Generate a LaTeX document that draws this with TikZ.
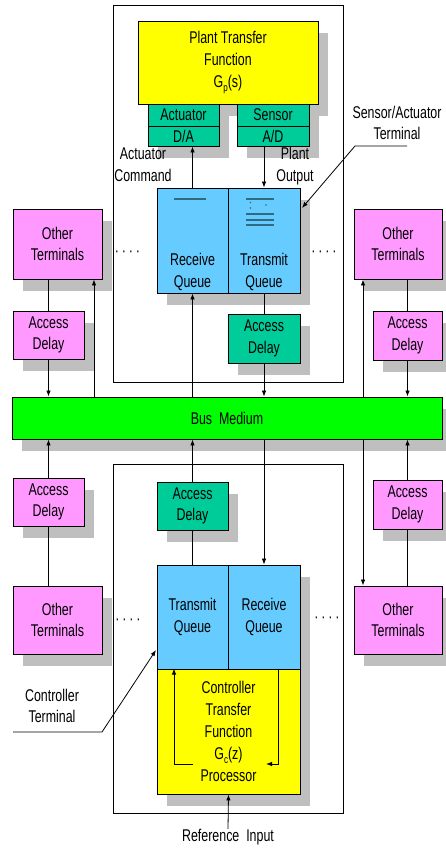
\documentclass[tikz,border=0pt]{standalone}
\usepackage{fontspec}
\setmainfont{Liberation Sans}[FakeStretch=0.73]
\usetikzlibrary{arrows.meta,positioning,calc,shadows}
\definecolor{plantyellow}{HTML}{FFFF00}
\definecolor{devteal}{HTML}{00CC99}
\definecolor{queueblue}{HTML}{66CCFF}
\definecolor{otherpink}{HTML}{FF99FF}
\definecolor{busgreen}{HTML}{00FF00}
\definecolor{qmark}{HTML}{2F6A80}
\newcommand{\lowsub}[1]{\raisebox{-4pt}{\fontsize{11}{11}\selectfont #1}}

\begin{document}
\begin{tikzpicture}[
    x=1pt, y=-1pt,
    font=\fontsize{17}{21.8}\selectfont,
    every node/.style={align=center, inner sep=0pt},
    blk/.style={draw, line width=0.9pt,
      drop shadow={shadow xshift=10pt, shadow yshift=-12pt, fill=black!25, opacity=1}},
    plantblk/.style={blk, fill=plantyellow},
    devblk/.style={blk, fill=devteal},
    queueblk/.style={blk, fill=queueblue},
    otherblk/.style={blk, fill=otherpink},
    busblk/.style={blk, fill=busgreen},
    arr/.style={-{Latex[length=6pt,width=4.5pt]}, line width=0.8pt},
    wire/.style={line width=0.8pt},
    qline/.style={qmark, line width=1.4pt}
  ]
    \useasboundingbox (0,0) rectangle (445,848);

    \draw[line width=0.9pt] (113,5) rectangle (343,382);
    \draw[line width=0.9pt] (113,464) rectangle (343,813);

    % sensor/actuator terminal
    \node[plantblk, minimum width=180pt, minimum height=83pt] (plant) at (228,62.5)
      {Plant Transfer\\Function\\G\lowsub{p}(s)};
    \node[devblk, minimum width=71pt, minimum height=22pt] (act) at (183.5,115) {Actuator};
    \node[devblk, minimum width=71pt, minimum height=20pt] (da) at (183.5,136) {D/A};
    \node[devblk, minimum width=72pt, minimum height=22pt] (sen) at (273,115) {Sensor};
    \node[devblk, minimum width=72pt, minimum height=20pt] (ad) at (273,136) {A/D};
    \node (actcmd) at (143,165) {Actuator\\Command};
    \node (pout) at (295,166) {Plant\\Output};
    \node[queueblk, minimum width=71pt, minimum height=105pt] (rq) at (192.5,240.5) {};
    \node[queueblk, minimum width=72pt, minimum height=105pt] (tq) at (264,240.5) {};
    \node (rqt) at (192.5,272) {Receive\\Queue};
    \node (tqt) at (264,272) {Transmit\\Queue};
    \draw[qline] (174,199) -- (206,199);
    \draw[qline] (246,199) -- (274,199);
    \draw[qline] (246,214) -- (274,214);
    \draw[qline] (246,220) -- (274,220);
    \draw[qline] (246,225) -- (274,225);
    \fill[qmark] (250.5,202.5) circle (0.8) (250.5,208) circle (0.8) (266,205) circle (0.8);
    \node[devblk, minimum width=72pt, minimum height=49pt] (td) at (264,338.5) {Access\\Delay};

    % other terminals, upper side
    \node[otherblk, minimum width=89pt, minimum height=70pt] (ot1) at (57.5,244) {Other\\Terminals};
    \node[otherblk, minimum width=71pt, minimum height=48pt] (ad1) at (48.5,335) {Access\\Delay};
    \node[otherblk, minimum width=88pt, minimum height=70pt] (ot2) at (398,244) {Other\\Terminals};
    \node[otherblk, minimum width=69pt, minimum height=49pt] (ad2) at (407.5,335.5) {Access\\Delay};
    \node (dots1) at (127.5,254) {·\,·\,·\,·};
    \node (dots2) at (324,254) {·\,·\,·\,·};

    \node[busblk, minimum width=430pt, minimum height=42pt] (bus) at (227,418) {Bus~~Medium};

    % controller terminal
    \node[devblk, minimum width=71pt, minimum height=48pt] (td2) at (192.5,506) {Access\\Delay};
    \node[queueblk, minimum width=71pt, minimum height=104pt] (tq2) at (192.5,617) {Transmit\\Queue};
    \node[queueblk, minimum width=72pt, minimum height=104pt] (rq2) at (264,617) {Receive\\Queue};
    \node[plantblk, minimum width=143pt, minimum height=125pt] (ctrl) at (228.5,731.5)
      {Controller\\Transfer\\Function\\G\lowsub{c}(z)\\Processor};
    \node (ref) at (228,837) {Reference~~Input};

    % other terminals, lower side
    \node[otherblk, minimum width=71pt, minimum height=48pt] (ad3) at (48.5,502) {Access\\Delay};
    \node[otherblk, minimum width=89pt, minimum height=68pt] (ot3) at (57.5,620) {Other\\Terminals};
    \node[otherblk, minimum width=69pt, minimum height=49pt] (ad4) at (407.5,504.5) {Access\\Delay};
    \node[otherblk, minimum width=88pt, minimum height=68pt] (ot4) at (398,620) {Other\\Terminals};
    \node (dots3) at (128,622) {·\,·\,·\,·};
    \node (dots4) at (327,620) {·\,·\,·\,·};

    \node (ctlbl) at (52,706) {Controller\\Terminal};
    \node (salbl) at (397,123) {Sensor/Actuator\\Terminal};

    \coordinate (lup) at (94,0);
    \coordinate (rlink) at (363,0);
    \coordinate (cl) at (193,764);
    \coordinate (clx) at (174,0);
    \coordinate (cr) at (266,764);
    \coordinate (crx) at (278,0);
    \coordinate (ct1) at (13,732);
    \coordinate (ct2) at (102,732);
    \coordinate (ct3) at (156,650);
    \coordinate (sa1) at (407,146);
    \coordinate (sa2) at (355,146);
    \coordinate (sa3) at (302,208);

    \draw[arr] (rq.north) -- (rq.north |- da.south);
    \draw[arr] (tq.north |- ad.south) -- (tq.north);
    \draw[wire] (tq.south) -- (td.north);
    \draw[arr] (td.south) -- (td.south |- bus.north);
    \draw[arr] (rq.south |- bus.north) -- (rq.south);
    \draw[wire] (ad1.north |- ot1.south) -- (ad1.north);
    \draw[arr] (ad1.south) -- (ad1.south |- bus.north);
    \draw[arr] (bus.north -| lup) -- (ot1.south -| lup);
    \draw[wire] (ad2.north |- ot2.south) -- (ad2.north);
    \draw[arr] (ad2.south) -- (ad2.south |- bus.north);
    \draw[arr] (bus.north -| rlink) -- (ot2.south -| rlink);

    \draw[arr] (td2.north) -- (td2.north |- bus.south);
    \draw[wire] (td2.south) -- (tq2.north);
    \draw[arr] (rq2.north |- bus.south) -- (rq2.north);
    \draw[wire] (ad3.south |- ot3.north) -- (ad3.south);
    \draw[arr] (ad3.north) -- (ad3.north |- bus.south);
    \draw[wire] (ad4.south |- ot4.north) -- (ad4.south);
    \draw[arr] (ad4.north) -- (ad4.north |- bus.south);
    \draw[arr] (bus.south -| rlink) -- (ot4.north -| rlink);

    \draw[arr] (cl) -| (ctrl.north -| clx);
    \draw[arr] (ctrl.north -| crx) |- (cr);
    \draw[arr] (ref.north) -- (ctrl.south);
    \draw[arr] (ct1) -- (ct2) -- (ct3);
    \draw[arr] (sa1) -- (sa2) -- (sa3);
  \end{tikzpicture}
\end{document}
